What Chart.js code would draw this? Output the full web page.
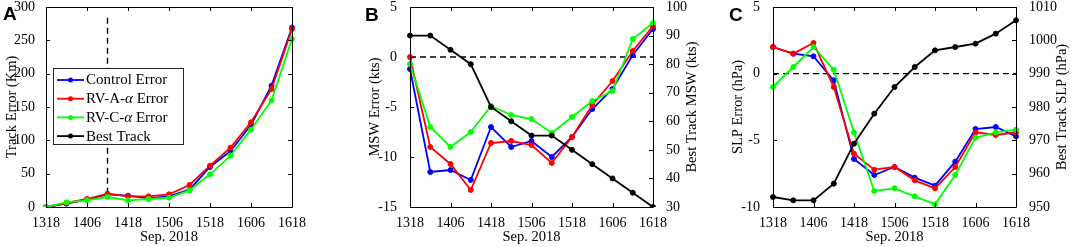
<!DOCTYPE html>
<html>
<head>
<meta charset="utf-8">
<script src="https://cdn.jsdelivr.net/npm/chart.js@4.4.0/dist/chart.umd.min.js"></script>
<style>
  html, body { margin: 0; padding: 0; background: #fff; }
  #wrap { position: relative; width: 1072px; height: 247px; overflow: hidden; }
  .panel { position: absolute; top: 0; height: 247px; }
  .letter { position: absolute; font: bold 19px 'Liberation Sans', Arial, sans-serif; line-height: 19px; color: #000; }
</style>
</head>
<body>
<div id="wrap">
  <div class="panel" style="left:0"><canvas id="chartA" width="340" height="247"></canvas></div>
  <div class="panel" style="left:340px"><canvas id="chartB" width="370" height="247"></canvas></div>
  <div class="panel" style="left:700px"><canvas id="chartC" width="372" height="247"></canvas></div>
  <div class="letter" style="left:3px;top:4px">A</div>
  <div class="letter" style="left:365px;top:5px">B</div>
  <div class="letter" style="left:729px;top:5px">C</div>
</div>
<script>
// times (day + hour UTC), Sep. 2018
const times = ['1318', '1400', '1406', '1412', '1418', '1500', '1506', '1512', '1518', '1600', '1606', '1612', '1618'];
const tickTimes = ['1318', '1406', '1418', '1506', '1518', '1606', '1618'];
const seriesNames = ['Control Error', 'RV-A-α Error', 'RV-C-α Error', 'Best Track'];
const seriesColors = ['#0000ff', '#ff0000', '#00ff00', '#000000'];

// A: track error (km)
const trackControl = [0, 5, 11, 19, 17, 13, 16, 26, 60, 84, 123, 182, 269];
const trackRVA = [0, 6, 12, 20, 16, 16, 19, 33, 62, 89, 127, 177, 267];
const trackRVC = [0, 7, 10, 15, 10, 12, 14, 25, 49, 77, 116, 160, 252];
const markTime = '1412';

// B: MSW error (kts) and best track MSW (kts)
const mswControl = [-1.2, -11.5, -11.3, -12.3, -7, -9, -8.4, -10, -8, -5.2, -3.2, 0.2, 2.8];
const mswRVA = [0, -9, -10.7, -13.3, -8.6, -8.4, -8.8, -10.6, -8, -4.8, -2.4, 0.6, 3.1];
const mswRVC = [-0.7, -7, -9, -7.5, -4.9, -5.8, -6.2, -7.6, -6, -4.4, -3.4, 1.8, 3.4];
const mswBest = [90, 90, 85, 80, 65, 60, 55, 55, 50, 45, 40, 35, 30];

// C: SLP error (hPa) and best track SLP (hPa)
const slpControl = [2.0, 1.5, 1.3, -0.5, -6.4, -7.6, -7.0, -7.8, -8.4, -6.6, -4.15, -4.0, -4.7];
const slpRVA = [2.0, 1.5, 2.3, -1.0, -6.0, -7.2, -7.0, -8.0, -8.6, -7.0, -4.4, -4.6, -4.4];
const slpRVC = [-1.0, 0.5, 2.0, 0.3, -4.4, -8.8, -8.6, -9.2, -9.8, -7.6, -4.8, -4.4, -4.2];
const slpBest = [953, 952, 952, 957, 969, 978, 986, 992, 997, 998, 999, 1002, 1006];

const serif = "'Liberation Serif', 'Times New Roman', serif";
const tickFont = { family: serif, size: 14 };
const titleFont = { family: serif, size: 14.5 };

function line(data, color, axis) {
  return {
    data, borderColor: color, backgroundColor: color,
    borderWidth: 1.8, pointRadius: 2.5, pointBorderWidth: 1,
    pointBackgroundColor: color, pointBorderColor: color,
    tension: 0, yAxisID: axis || 'y',
  };
}

function dashed(data) {
  return {
    data, borderColor: '#000', borderWidth: 1.4, borderDash: [6, 4],
    pointRadius: 0, tension: 0, yAxisID: 'y',
  };
}

function xScale() {
  return {
    type: 'category', offset: false,
    grid: { display: false }, border: { display: false },
    ticks: {
      autoSkip: false, maxRotation: 0, padding: 0, color: '#000', font: tickFont,
      callback: (v, i) => (tickTimes.includes(times[i]) ? times[i] : ''),
    },
    title: { display: true, text: 'Sep. 2018', color: '#000', font: titleFont, padding: 0 },
    afterFit: (s) => { s.height = 39; s.paddingLeft = 0; s.paddingRight = 0; },
  };
}

function yScale(pos, min, max, step, title, width, pad) {
  return {
    type: 'linear', position: pos, min, max,
    grid: { display: false }, border: { display: false },
    ticks: { stepSize: step, padding: pad, color: '#000', font: tickFont, callback: (v) => String(v) },
    title: { display: !!title, text: title, color: '#000', font: titleFont, padding: 0 },
    afterFit: (s) => { s.width = width; s.paddingTop = 0; s.paddingBottom = 0; },
  };
}

// box frame, inward ticks and right-hand titles (MATLAB look)
const frameTicks = {
  id: 'frameTicks',
  afterDatasetsDraw(chart, args, opts) {
    const { ctx, chartArea: a, scales } = chart;
    const tl = 4;
    ctx.save();
    ctx.strokeStyle = '#000';
    ctx.lineWidth = 1;
    ctx.beginPath();
    ctx.rect(a.left + 0.5, a.top + 0.5, a.right - a.left, a.bottom - a.top);
    const x = scales.x;
    x.ticks.forEach((t, i) => {
      if (!tickTimes.includes(times[i])) return;
      const px = Math.round(x.getPixelForTick(i)) + 0.5;
      ctx.moveTo(px, a.bottom); ctx.lineTo(px, a.bottom - tl);
      ctx.moveTo(px, a.top); ctx.lineTo(px, a.top + tl);
    });
    const y = scales.y;
    y.ticks.forEach((t) => {
      const py = Math.round(y.getPixelForValue(t.value)) + 0.5;
      ctx.moveTo(a.left, py); ctx.lineTo(a.left + tl, py);
      if (!scales.y1) { ctx.moveTo(a.right, py); ctx.lineTo(a.right - tl, py); }
    });
    if (scales.y1) {
      scales.y1.ticks.forEach((t) => {
        const py = Math.round(scales.y1.getPixelForValue(t.value)) + 0.5;
        ctx.moveTo(a.right, py); ctx.lineTo(a.right - tl, py);
      });
    }
    ctx.stroke();
    if (opts.rightTitle && scales.y1) {
      ctx.translate(scales.y1.right - 8.7, (a.top + a.bottom) / 2);
      ctx.rotate(-Math.PI / 2);
      ctx.fillStyle = '#000';
      ctx.font = `14.5px ${serif}`;
      ctx.textAlign = 'center';
      ctx.textBaseline = 'middle';
      ctx.fillText(opts.rightTitle, 0, 0);
    }
    ctx.restore();
  },
};

function drawLabel(ctx, text, x, y) {
  const parts = text.split('α');
  parts.forEach((p, k) => {
    ctx.font = `15px ${serif}`;
    ctx.fillText(p, x, y);
    x += ctx.measureText(p).width;
    if (k < parts.length - 1) {
      ctx.font = `italic 15px ${serif}`;
      ctx.fillText('α', x, y);
      x += ctx.measureText('α').width;
    }
  });
}

// legend box inside panel A
const boxLegend = {
  id: 'boxLegend',
  afterDatasetsDraw(chart) {
    const { ctx, chartArea: a } = chart;
    const x0 = Math.round(a.left + 7), y0 = Math.round(a.top + 61);
    const w = 130, h = 76;
    ctx.save();
    ctx.fillStyle = '#fff';
    ctx.fillRect(x0, y0, w, h);
    ctx.strokeStyle = '#262626';
    ctx.lineWidth = 1;
    ctx.strokeRect(x0 + 0.5, y0 + 0.5, w, h);
    seriesNames.forEach((name, i) => {
      const ry = y0 + 12 + i * 18.7;
      const c = seriesColors[i];
      ctx.strokeStyle = c;
      ctx.fillStyle = c;
      ctx.lineWidth = 1.8;
      ctx.beginPath();
      ctx.moveTo(x0 + 4, ry); ctx.lineTo(x0 + 31, ry);
      ctx.stroke();
      ctx.beginPath();
      ctx.arc(x0 + 17.5, ry, 2.5, 0, Math.PI * 2);
      ctx.fill();
      ctx.fillStyle = '#000';
      ctx.textBaseline = 'middle';
      drawLabel(ctx, name, x0 + 33, ry + 0.5);
    });
    ctx.restore();
  },
};

const common = {
  responsive: false, animation: false, devicePixelRatio: 1,
  plugins: { legend: { display: false }, tooltip: { enabled: false } },
};

new Chart(document.getElementById('chartA'), {
  type: 'line',
  data: {
    labels: times,
    datasets: [
      line(trackRVC, seriesColors[2]),
      line(trackRVA, seriesColors[1]),
      line(trackControl, seriesColors[0]),
      dashed([{ x: markTime, y: 20 }, { x: markTime, y: 290 }]),
    ],
  },
  options: {
    ...common,
    layout: { padding: { left: 3, right: 48, top: 7, bottom: 1 } },
    scales: { x: xScale(), y: yScale('left', 0, 300, 50, 'Track Error (Km)', 43, 3) },
    plugins: { ...common.plugins, frameTicks: {} },
  },
  plugins: [frameTicks, boxLegend],
});

new Chart(document.getElementById('chartB'), {
  type: 'line',
  data: {
    labels: times,
    datasets: [
      line(mswBest, seriesColors[3], 'y1'),
      line(mswRVC, seriesColors[2]),
      line(mswRVA, seriesColors[1]),
      line(mswControl, seriesColors[0]),
      dashed([{ x: times[0], y: 0 }, { x: times[times.length - 1], y: 0 }]),
    ],
  },
  options: {
    ...common,
    layout: { padding: { left: 26, right: 9, top: 7, bottom: 1 } },
    scales: {
      x: xScale(),
      y: yScale('left', -15, 5, 5, 'MSW Error (kts)', 44, 5),
      y1: yScale('right', 30, 100, 10, '', 48, 5),
    },
    plugins: { ...common.plugins, frameTicks: { rightTitle: 'Best Track MSW (kts)' } },
  },
  plugins: [frameTicks],
});

new Chart(document.getElementById('chartC'), {
  type: 'line',
  data: {
    labels: times,
    datasets: [
      line(slpBest, seriesColors[3], 'y1'),
      line(slpRVC, seriesColors[2]),
      line(slpRVA, seriesColors[1]),
      line(slpControl, seriesColors[0]),
      dashed([{ x: times[0], y: 0 }, { x: times[times.length - 1], y: 0 }]),
    ],
  },
  options: {
    ...common,
    layout: { padding: { left: 29, right: 1, top: 7, bottom: 1 } },
    scales: {
      x: xScale(),
      y: yScale('left', -10, 5, 5, 'SLP Error (hPa)', 44, 5),
      y1: yScale('right', 950, 1010, 10, '', 55, 5),
    },
    plugins: { ...common.plugins, frameTicks: { rightTitle: 'Best Track SLP (hPa)' } },
  },
  plugins: [frameTicks],
});
</script>
</body>
</html>
